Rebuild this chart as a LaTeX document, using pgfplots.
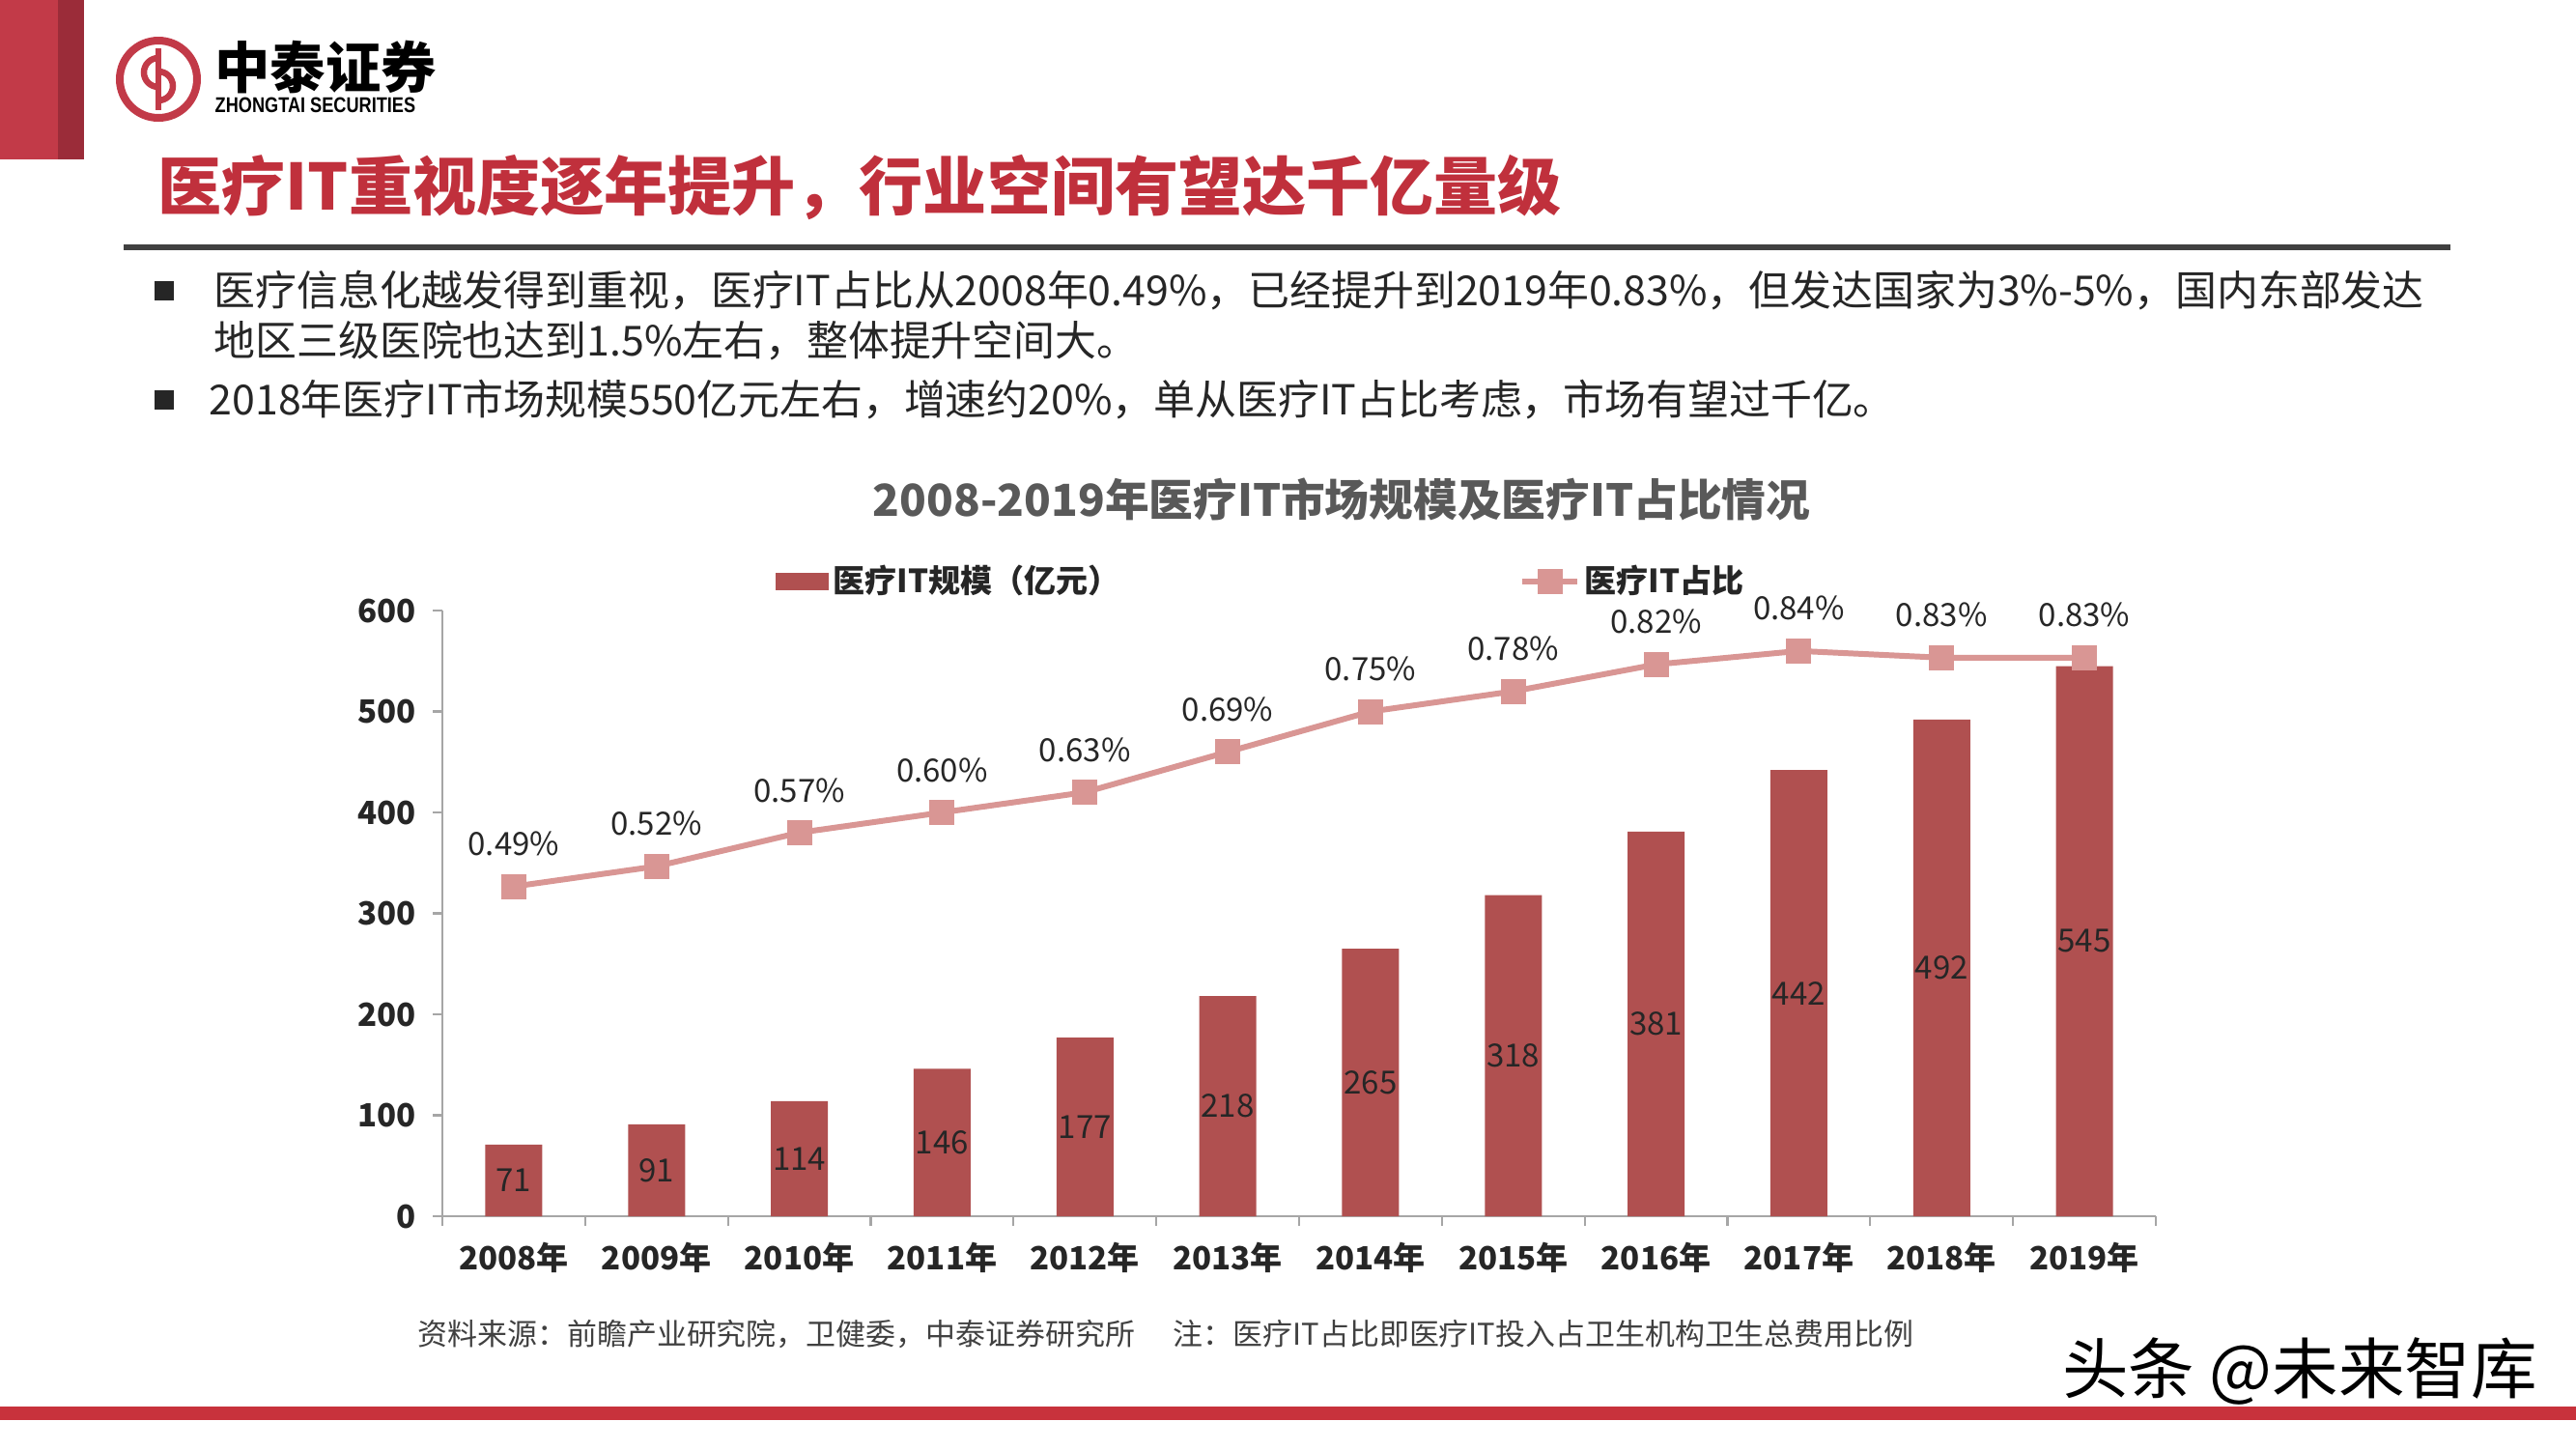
\documentclass[border=0pt]{standalone}
\usepackage{fontspec}
\setmainfont{Noto Sans CJK SC}
\newfontfamily\latinsans{Liberation Sans}
\usepackage{pgfplots}
\pgfplotsset{compat=1.18}
\usepackage{pgfplotstable}
\pgfplotsset{/pgf/number format/assume math mode=true}

\definecolor{barred}{HTML}{B05050}
\definecolor{linepink}{HTML}{D99694}
\definecolor{axisgray}{HTML}{A6A6A6}
\definecolor{txt}{HTML}{262626}
\definecolor{brand}{HTML}{C23A48}
\definecolor{branddark}{HTML}{9B2C39}
\definecolor{titlered}{HTML}{C0303C}
\definecolor{rulegray}{HTML}{404040}
\definecolor{charttitle}{HTML}{595959}
\definecolor{bandred}{HTML}{C8323C}

\pgfplotstableread{
x v p
0 71 0.49
1 91 0.52
2 114 0.57
3 146 0.60
4 177 0.63
5 218 0.69
6 265 0.75
7 318 0.78
8 381 0.82
9 442 0.84
10 492 0.83
11 545 0.83
}\datatable

\newcommand{\chartfont}{\fontsize{9.4pt}{11pt}\selectfont}

\begin{document}
\begin{tikzpicture}
\fill[white] (0,-15) rectangle (26.67,0);
% corner block
\fill[brand] (0,0) rectangle (0.87,-1.65);
\fill[branddark] (0.60,0) rectangle (0.87,-1.65);
% logo
\draw[brand, line width=0.08cm] (1.64,-0.82) circle (0.40);
\draw[brand, line width=0.065cm] (1.64,-0.50) -- (1.64,-1.14);
\draw[brand, line width=0.065cm] (1.64,-0.60) arc (90:270:0.15);
\draw[brand, line width=0.065cm] (1.64,-0.74) arc (90:-90:0.15);
\node[anchor=west, inner sep=0, text=black] at (2.22,-0.70) {\fontsize{16.3pt}{18pt}\selectfont\bfseries 中泰证券};
\node[anchor=west, inner sep=0, text=black] at (2.22,-1.09) {\scalebox{0.82}[1]{\fontsize{6.3pt}{7pt}\selectfont\latinsans\bfseries ZHONGTAI SECURITIES}};
% title
\node[anchor=west, inner sep=0, text=titlered] at (1.63,-1.94) {\fontsize{18.8pt}{20pt}\selectfont\bfseries 医疗IT重视度逐年提升，行业空间有望达千亿量级};
% rule
\fill[rulegray] (1.28,-2.53) rectangle (25.37,-2.59);
% bullets
\fill[txt] (1.60,-2.91) rectangle (1.80,-3.11);
\node[anchor=west, inner sep=0, text=txt] at (2.21,-3.01) {\fontsize{12.2pt}{14pt}\selectfont 医疗信息化越发得到重视，医疗IT占比从2008年0.49\%，已经提升到2019年0.83\%，但发达国家为3\%-5\%，国内东部发达};
\node[anchor=west, inner sep=0, text=txt] at (2.21,-3.53) {\fontsize{12.2pt}{14pt}\selectfont 地区三级医院也达到1.5\%左右，整体提升空间大。};
\fill[txt] (1.60,-4.04) rectangle (1.80,-4.24);
\node[anchor=west, inner sep=0, text=txt] at (2.16,-4.14) {\fontsize{12.2pt}{14pt}\selectfont 2018年医疗IT市场规模550亿元左右，增速约20\%，单从医疗IT占比考虑，市场有望过千亿。};
% chart title
\node[anchor=center, inner sep=0, text=charttitle] at (13.89,-5.17) {\fontsize{13pt}{15pt}\selectfont\bfseries 2008-2019年医疗IT市场规模及医疗IT占比情况};

\begin{scope}[shift={(4.58cm,-12.59cm)}]
% bars axis
\begin{axis}[
  at={(0,0)}, anchor=south west,
  width=17.74cm, height=6.27cm, scale only axis,
  xmin=-0.5, xmax=11.5, ymin=0, ymax=600,
  clip=false,
  axis x line*=bottom, axis y line*=left,
  axis line style={draw=axisgray, line width=0.6pt},
  tick align=outside,
  major tick length=0.1cm,
  tick style={draw=axisgray, line width=0.6pt},
  ytick={0,100,...,600},
  xtick={-0.5,0.5,...,11.5},
  xticklabels={},
  extra x ticks={0,1,...,11},
  extra x tick labels={2008年,2009年,2010年,2011年,2012年,2013年,2014年,2015年,2016年,2017年,2018年,2019年},
  extra x tick style={major tick length=0pt},
  ticklabel style={font=\chartfont\bfseries, text=txt},
  yticklabel style={xshift=-0.05cm},
  xticklabel style={yshift=-0.15cm},
]
\addplot[ybar, bar width=0.59cm, fill=barred, draw=none] table[x=x, y=v] {\datatable};
\addplot[draw=none, mark=none, nodes near coords, point meta=explicit,
  nodes near coords style={anchor=center, font=\chartfont, text=txt}]
  table[x=x, y expr=\thisrow{v}/2, meta=v] {\datatable};
\end{axis}

% line axis
\begin{axis}[
  at={(0,0)}, anchor=south west,
  width=17.74cm, height=6.27cm, scale only axis,
  xmin=-0.5, xmax=11.5, ymin=0, ymax=0.9,
  clip=false, hide axis,
  legend columns=2,
  legend style={at={(0.1945,1.048)}, anchor=west, draw=none, fill=none,
    inner sep=0pt, outer sep=0pt, font=\chartfont\bfseries,
    /tikz/every even column/.append style={column sep=4.1cm},
    nodes={inner sep=0.04cm, text=txt}},
]
\addlegendimage{legend image code/.code={\fill[barred] (0cm,-0.08cm) rectangle (0.54cm,0.08cm);}}
\addlegendentry{医疗IT规模（亿元）}
\addplot[linepink, line width=1.7pt, mark=square*, mark size=2.85pt,
  mark options={solid, fill=linepink, draw=linepink},
  nodes near coords={\pgfmathprintnumber[fixed,fixed zerofill,precision=2]{\pgfplotspointmeta}\%},
  point meta=explicit,
  nodes near coords style={anchor=center, yshift=0.44cm, font=\chartfont, text=txt},
  legend image code/.code={\draw[linepink, line width=1.7pt] (0cm,0cm) -- (0.57cm,0cm);
    \fill[linepink] (0.185cm,-0.1cm) rectangle (0.385cm,0.1cm);}]
  table[x=x, y=p, meta=p] {\datatable};
\addlegendentry{医疗IT占比}
\end{axis}
\end{scope}

% source
\node[anchor=west, inner sep=0, text=rulegray] at (4.32,-13.81) {\fontsize{8.8pt}{10pt}\selectfont 资料来源：前瞻产业研究院，卫健委，中泰证券研究所\hspace{0.4cm}注：医疗IT占比即医疗IT投入占卫生机构卫生总费用比例};
% watermark
\node[anchor=center, inner sep=0, text=black] at (23.81,-14.20) {\fontsize{19.5pt}{21pt}\selectfont 头条 @未来智库};
% bottom band
\fill[bandred] (0,-14.56) rectangle (26.67,-14.70);
\end{tikzpicture}
\end{document}
